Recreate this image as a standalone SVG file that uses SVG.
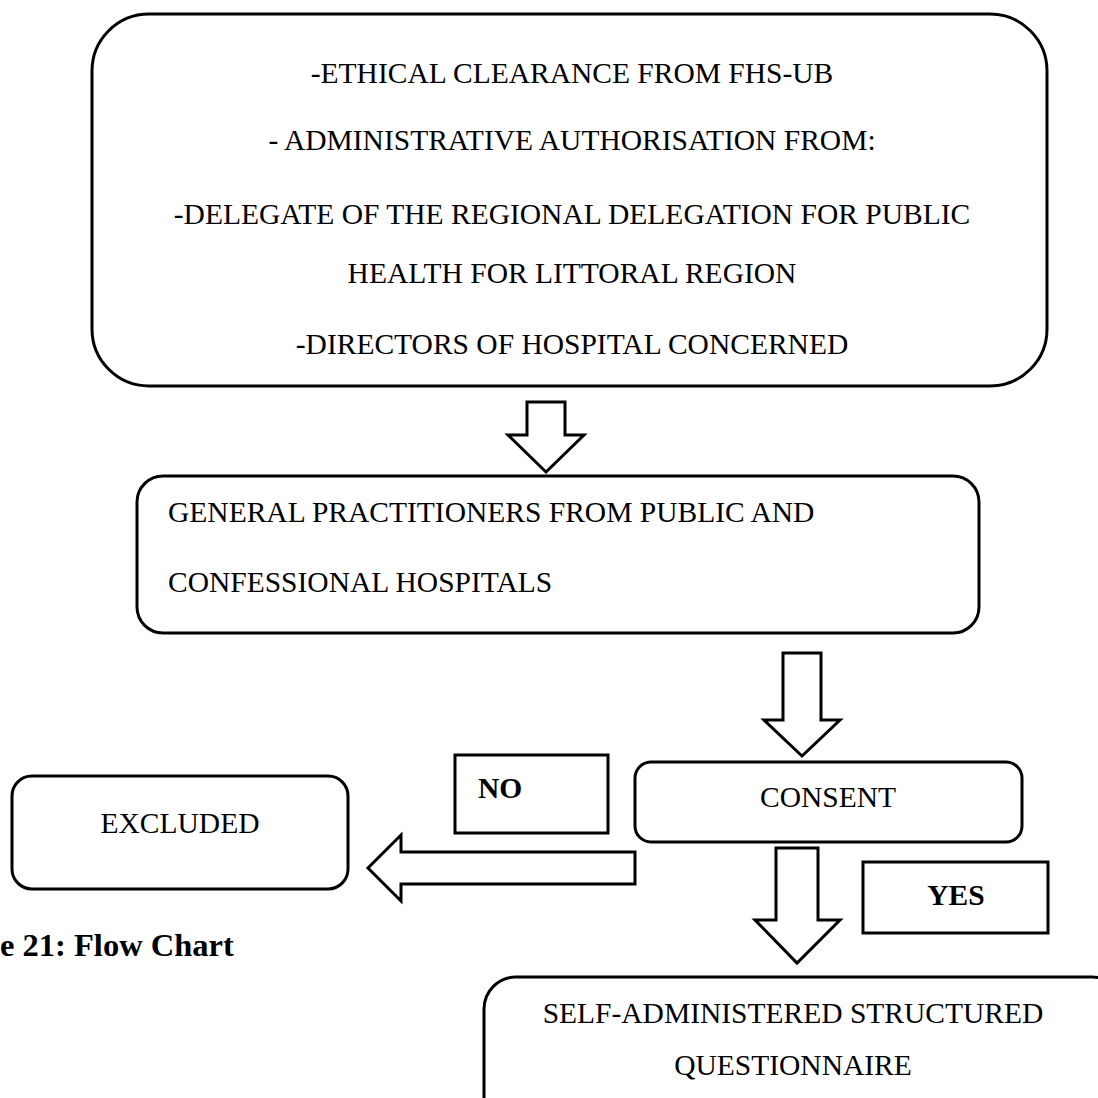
<svg xmlns="http://www.w3.org/2000/svg" width="1098" height="1098" viewBox="0 0 1098 1098">
<style>
.box{fill:#fff;stroke:#000;stroke-width:3}
.arr{fill:#fff;stroke:#000;stroke-width:3;stroke-linejoin:miter}
.t{font-family:"Liberation Serif","Times New Roman",serif;font-size:29.5px;fill:#000}
.b{font-family:"Liberation Serif","Times New Roman",serif;font-size:29.5px;font-weight:bold;fill:#000}
.m{text-anchor:middle}
</style>
<rect width="1098" height="1098" fill="#fff"/>
<g id="connectors">
<polygon class="arr" points="527,402 565,402 565,435 584,435 546,472 508,435 527,435"/>
<polygon class="arr" points="783,653 821,653 821,720 840,720 802,756 764,720 783,720"/>
<polygon class="arr" points="635,852 401,852 401,835 368,868 401,901 401,884 635,884"/>
<polygon class="arr" points="776,848 818,848 818,920 840,920 797,963 755,920 776,920"/>
</g>
<g id="node-approval">
<rect class="box" x="92" y="14" width="955" height="372" rx="57" ry="57"/>
<text class="t m" x="572" y="83">-ETHICAL CLEARANCE FROM FHS-UB</text>
<text class="t m" x="572" y="150">- ADMINISTRATIVE AUTHORISATION FROM:</text>
<text class="t m" x="572" y="224">-DELEGATE OF THE REGIONAL DELEGATION FOR PUBLIC</text>
<text class="t m" x="572" y="283">HEALTH FOR LITTORAL REGION</text>
<text class="t m" x="572" y="354">-DIRECTORS OF HOSPITAL CONCERNED</text>
</g>
<g id="node-gp">
<rect class="box" x="137" y="476" width="842" height="157" rx="26" ry="26"/>
<text class="t" x="168" y="522">GENERAL PRACTITIONERS FROM PUBLIC AND</text>
<text class="t" x="168" y="592">CONFESSIONAL HOSPITALS</text>
</g>
<g id="node-consent">
<rect class="box" x="635" y="762" width="387" height="80" rx="16" ry="16"/>
<text class="t m" x="828" y="807">CONSENT</text>
</g>
<g id="node-no">
<rect class="box" x="455" y="755" width="153" height="78"/>
<text class="b" x="478" y="798">NO</text>
</g>
<g id="node-excluded">
<rect class="box" x="12" y="776" width="336" height="113" rx="20" ry="20"/>
<text class="t m" x="180" y="833">EXCLUDED</text>
</g>
<g id="node-yes">
<rect class="box" x="863" y="862" width="185" height="71"/>
<text class="b m" x="956" y="905">YES</text>
</g>
<g id="node-questionnaire">
<rect class="box" x="484" y="977" width="640" height="200" rx="32" ry="32"/>
<text class="t m" x="793" y="1023">SELF-ADMINISTERED STRUCTURED</text>
<text class="t m" x="793" y="1075">QUESTIONNAIRE</text>
</g>
<g id="caption">
<text class="b" x="0" y="956" style="font-size:32.5px">e 21: Flow Chart</text>
</g>
</svg>
